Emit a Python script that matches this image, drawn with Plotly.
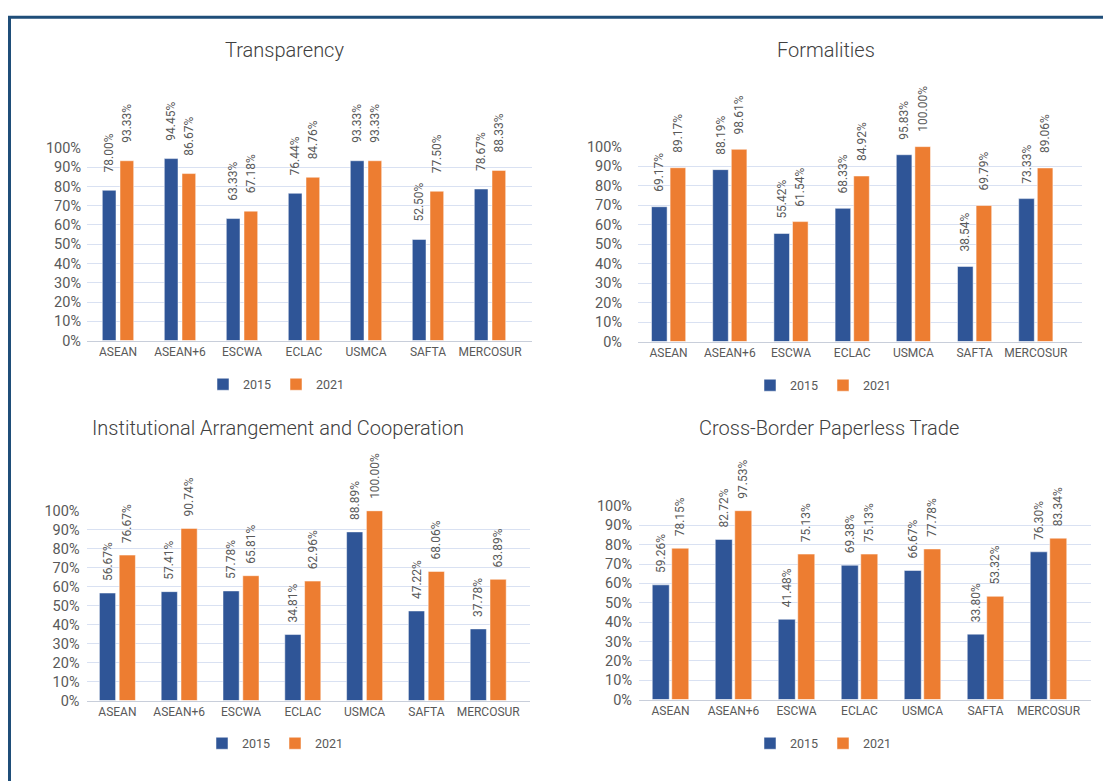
import plotly.graph_objects as go

categories = ["ASEAN", "ASEAN+6", "ESCWA", "ECLAC", "USMCA", "SAFTA", "MERCOSUR"]
series_names = ["2015", "2021"]

titles = ["Transparency", "Formalities",
          "Institutional Arrangement and Cooperation", "Cross-Border Paperless Trade"]

transparency_2015 = [78.00, 94.45, 63.33, 76.44, 93.33, 52.50, 78.67]
transparency_2021 = [93.33, 86.67, 67.18, 84.76, 93.33, 77.50, 88.33]

formalities_2015 = [69.17, 88.19, 55.42, 68.33, 95.83, 38.54, 73.33]
formalities_2021 = [89.17, 98.61, 61.54, 84.92, 100.00, 69.79, 89.06]

institutional_2015 = [56.67, 57.41, 57.78, 34.81, 88.89, 47.22, 37.78]
institutional_2021 = [76.67, 90.74, 65.81, 62.96, 100.00, 68.06, 63.89]

paperless_2015 = [59.26, 82.72, 41.48, 69.38, 66.67, 33.80, 76.30]
paperless_2021 = [78.15, 97.53, 75.13, 75.13, 77.78, 53.32, 83.34]

panels = [
    (transparency_2015, transparency_2021),
    (formalities_2015, formalities_2021),
    (institutional_2015, institutional_2021),
    (paperless_2015, paperless_2021),
]

W, H = 1103, 781
colors = ["#2F5597", "#ED7D31"]
txt = "#595959"
font_family = "Roboto, 'Open Sans', sans-serif"
NB = "\u00a0"

# pixel layout per panel
geom = [
    dict(xl=87, sp=62.0, rend=6.68, yb=340, yt=143, tx=284, ty=43, lx=276, ly=385,
         bw=13.7, gap=4.0, pad=5, so=5),
    dict(xl=638, sp=61.2, rend=6.75, yb=341, yt=141.7, tx=826, ty=43, lx=823, ly=386,
         bw=15.6, gap=3.0, pad=4, so=15),
    dict(xl=86.5, sp=61.8, rend=6.68, yb=708, yt=514, tx=278, ty=429, lx=275, ly=752,
         bw=16.2, gap=3.6, pad=3, so=6),
    dict(xl=639, sp=63.0, rend=6.67, yb=707, yt=509, tx=829, ty=429, lx=823, ly=752,
         bw=17.0, gap=2.5, pad=3, so=6),
]

fig = go.Figure()
layout = dict(
    width=W, height=H,
    margin=dict(l=0, r=0, t=0, b=0),
    paper_bgcolor="white", plot_bgcolor="white",
    barmode="overlay",
    font=dict(family=font_family, color=txt),
    annotations=[], shapes=[],
)

for i, (s15, s21) in enumerate(panels):
    g = geom[i]
    n = i + 1
    ax = "" if n == 1 else str(n)
    lg = "legend" if n == 1 else f"legend{n}"
    w = g["bw"] / g["sp"]
    half_gap = g["gap"] / 2 / g["sp"]
    offsets = [-(w + half_gap), half_gap]
    for j, vals in enumerate((s15, s21)):
        fig.add_trace(go.Bar(
            x=categories, y=[v / 100 for v in vals], name=series_names[j],
            xaxis="x" + ax, yaxis="y" + ax, legend=lg,
            width=w, offset=offsets[j],
            marker=dict(color=colors[j], line=dict(color="white", width=0.5)),
            texttemplate=NB * g["pad"] + "%{y:.2%}", textposition="outside", textangle=-90,
            textfont=dict(size=12, color=txt), cliponaxis=False,
            constraintext="none",
        ))
    x_right = g["xl"] + (g["rend"] + 0.5) * g["sp"]
    layout["xaxis" + ax] = dict(
        domain=[g["xl"] / W, x_right / W], anchor="y" + ax,
        range=[-0.5, g["rend"]],
        showline=True, linecolor="#c8ceda", linewidth=1,
        showgrid=False, tickfont=dict(size=12, color=txt), ticks="",
    )
    layout["yaxis" + ax] = dict(
        domain=[1 - g["yb"] / H, 1 - g["yt"] / H], anchor="x" + ax,
        range=[0, 1], dtick=0.1, tickformat=".0%",
        showgrid=True, gridcolor="#d9e1f2", gridwidth=1, zeroline=False,
        tickfont=dict(size=14.5, color=txt), ticks="",
        ticklabelstandoff=g["so"],
    )
    layout[lg] = dict(
        orientation="h", x=g["lx"] / W, y=1 - g["ly"] / H,
        xanchor="center", yanchor="middle",
        font=dict(size=12.5, color=txt), bgcolor="rgba(0,0,0,0)",
        itemwidth=30, entrywidth=28, traceorder="normal",
    )
    layout["annotations"].append(dict(
        text=titles[i], x=g["tx"] / W, y=1 - g["ty"] / H, xref="paper", yref="paper",
        showarrow=False, xanchor="center", yanchor="middle",
        font=dict(size=20, color="#404040", weight=300),
    ))

layout["shapes"].append(dict(
    type="rect", xref="paper", yref="paper",
    x0=9.5 / W, x1=1.05, y0=-0.05, y1=1 - 9.5 / H,
    line=dict(color="#1F4E79", width=3), fillcolor="rgba(0,0,0,0)",
))

fig.update_layout(**layout)
fig.write_html("out.html")
